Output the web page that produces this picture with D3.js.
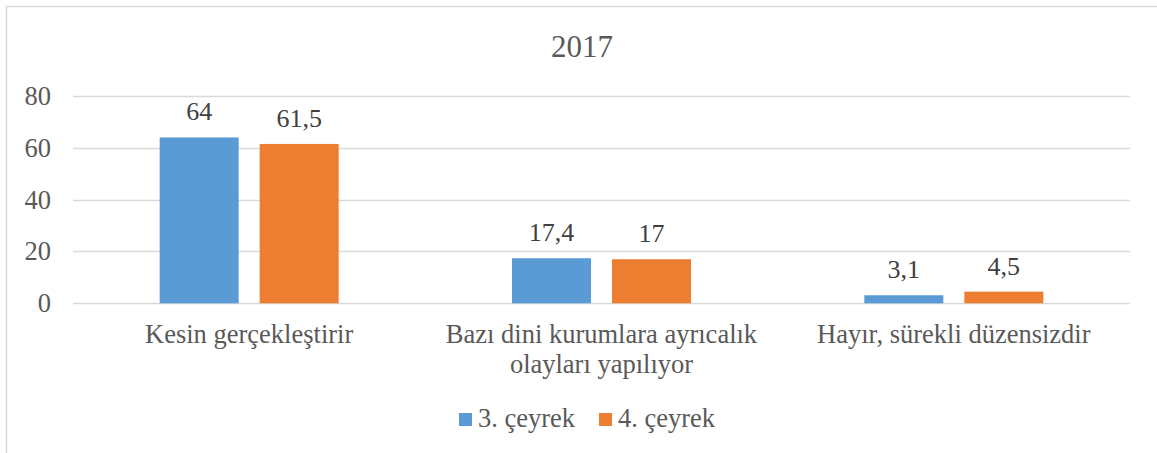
<!DOCTYPE html>
<html>
<head>
<meta charset="utf-8">
<script src="https://cdn.jsdelivr.net/npm/d3@7"></script>
<style>
  html, body { margin: 0; padding: 0; background: #fff; overflow: hidden; }
  svg { display: block; }
</style>
</head>
<body>
<script>
const title = "2017";
const categories = [["Kesin gerçekleştirir"], ["Bazı dini kurumlara ayrıcalık", "olayları yapılıyor"], ["Hayır, sürekli düzensizdir"]];
const seriesNames = ["3. çeyrek", "4. çeyrek"];
const series3 = [64, 17.4, 3.1];
const series4 = [61.5, 17, 4.5];
const yTicks = [0, 20, 40, 60, 80];
const colors = ["#5b9bd5", "#ed7d31"];

const W = 1157, H = 453;
const font = "'Liberation Serif', 'Times New Roman', serif";
const textColor = "#595959";
const gridColor = "#d9d9d9";

const svg = d3.select("body").append("svg").attr("width", W).attr("height", H);
svg.append("rect").attr("width", W).attr("height", H).attr("fill", "#fff");
svg.append("rect").attr("x", 6.5).attr("y", 6.5).attr("width", 1300).attr("height", 600)
  .attr("fill", "none").attr("stroke", gridColor).attr("stroke-width", 1.5);

const plot = { left: 73, right: 1130, top: 96, bottom: 303.3 };
const x0 = d3.scaleBand().domain(d3.range(categories.length)).range([plot.left, plot.right]);
const x1 = d3.scaleBand().domain([0, 1]).range([0, 179]).paddingInner(0.21);
const y = d3.scaleLinear().domain([0, 80]).range([plot.bottom, plot.top]);

// title
svg.append("text").attr("x", 582).attr("y", 57)
  .attr("text-anchor", "middle").attr("font-family", font).attr("font-size", 31)
  .attr("fill", textColor).text(title);

// gridlines
svg.append("g").selectAll("line").data(yTicks).join("line")
  .attr("x1", plot.left).attr("x2", plot.right)
  .attr("y1", d => Math.round(y(d)) + 0.5).attr("y2", d => Math.round(y(d)) + 0.5)
  .attr("stroke", gridColor).attr("stroke-width", 1.5);

// y tick labels
svg.append("g").selectAll("text").data(yTicks).join("text")
  .attr("x", 51).attr("y", d => y(d) + 9)
  .attr("text-anchor", "end").attr("font-family", font).attr("font-size", 26.5)
  .attr("fill", textColor).text(d => d);

const fmt = v => String(v).replace(".", ",");
const data = [];
categories.forEach((c, i) => {
  [series3, series4].forEach((s, j) => data.push({ cat: i, ser: j, v: s[i] }));
});
const groupOffset = (x0.bandwidth() - 179) / 2;

svg.append("g").selectAll("rect").data(data).join("rect")
  .attr("x", d => x0(d.cat) + groupOffset + x1(d.ser))
  .attr("width", x1.bandwidth())
  .attr("y", d => y(d.v))
  .attr("height", d => y(0) - y(d.v))
  .attr("fill", d => colors[d.ser]);

svg.append("g").selectAll("text").data(data).join("text")
  .attr("x", d => x0(d.cat) + groupOffset + x1(d.ser) + x1.bandwidth() / 2)
  .attr("y", d => y(d.v) - 17)
  .attr("text-anchor", "middle").attr("font-family", font).attr("font-size", 26)
  .attr("fill", "#404040").text(d => fmt(d.v));

// category labels
const cat = svg.append("g").selectAll("text").data(categories).join("text")
  .attr("x", (d, i) => x0(i) + x0.bandwidth() / 2)
  .attr("y", 343)
  .attr("text-anchor", "middle").attr("font-family", font).attr("font-size", 26.5)
  .attr("fill", textColor);
cat.selectAll("tspan").data(d => d).join("tspan")
  .attr("x", function () { return d3.select(this.parentNode).attr("x"); })
  .attr("dy", (d, i) => i === 0 ? 0 : 30).text(d => d);

// legend
const legendX = [459, 599];
const lg = svg.append("g").selectAll("g").data(seriesNames).join("g")
  .attr("transform", (d, i) => `translate(${legendX[i]},0)`);
lg.append("rect").attr("x", 0).attr("y", 413).attr("width", 13).attr("height", 13)
  .attr("fill", (d, i) => colors[i]);
lg.append("text").attr("x", 19).attr("y", 427).attr("font-family", font).attr("font-size", 26.5)
  .attr("fill", textColor).text(d => d);
</script>
</body>
</html>
